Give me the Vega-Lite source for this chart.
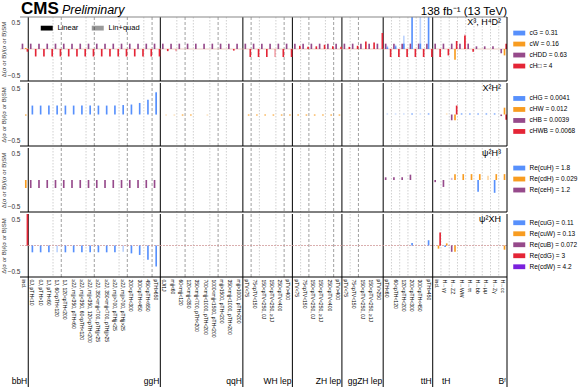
{
"$schema": "https://vega.github.io/schema/vega-lite/v6.json",
"padding": {"left": 0, "top": 0, "right": 0, "bottom": 0},
"spacing": 0,
"datasets": {
"bins": [{"b":"00","line":"none"},{"b":"01","line":"grp"},{"b":"02","line":"none"},{"b":"03","line":"none"},{"b":"04","line":"dot"},{"b":"05","line":"dash"},{"b":"06","line":"none"},{"b":"07","line":"none"},{"b":"08","line":"dot"},{"b":"09","line":"dash"},{"b":"10","line":"none"},{"b":"11","line":"none"},{"b":"12","line":"dot"},{"b":"13","line":"dash"},{"b":"14","line":"none"},{"b":"15","line":"dot"},{"b":"16","line":"dash"},{"b":"17","line":"grp"},{"b":"18","line":"none"},{"b":"19","line":"dot"},{"b":"20","line":"dash"},{"b":"21","line":"dot"},{"b":"22","line":"none"},{"b":"23","line":"dot"},{"b":"24","line":"dash"},{"b":"25","line":"dot"},{"b":"26","line":"none"},{"b":"27","line":"grp"},{"b":"28","line":"dash"},{"b":"29","line":"dot"},{"b":"30","line":"none"},{"b":"31","line":"dot"},{"b":"32","line":"dash"},{"b":"33","line":"grp"},{"b":"34","line":"dot"},{"b":"35","line":"dash"},{"b":"36","line":"none"},{"b":"37","line":"dot"},{"b":"38","line":"dash"},{"b":"39","line":"grp"},{"b":"40","line":"dot"},{"b":"41","line":"dash"},{"b":"42","line":"none"},{"b":"43","line":"none"},{"b":"44","line":"grp"},{"b":"45","line":"dot"},{"b":"46","line":"dot"},{"b":"47","line":"dot"},{"b":"48","line":"dot"},{"b":"49","line":"dot"},{"b":"50","line":"grp"},{"b":"51","line":"dot"},{"b":"52","line":"dot"},{"b":"53","line":"dot"},{"b":"54","line":"dot"},{"b":"55","line":"dot"},{"b":"56","line":"dot"},{"b":"57","line":"dot"},{"b":"58","line":"dot"}],
"groups": [{"b":"00","n":"bbH"},{"b":"16","n":"ggH"},{"b":"26","n":"qqH"},{"b":"32","n":"WH lep"},{"b":"38","n":"ZH lep"},{"b":"43","n":"ggZH lep"},{"b":"49","n":"ttH"},{"b":"58","n":"Bᶠ"},{"b":"50","n":"tH"}],
"r1": [{"b":"00","o":"P","t":"L","v":0.1},{"b":"00","o":"O","t":"L","v":0.02},{"b":"00","o":"R","t":"L","v":-0.05},
{"b":"01","o":"P","t":"L","v":0.1},{"b":"01","o":"R","t":"L","v":-0.14},{"b":"02","o":"P","t":"L","v":0.1},{"b":"02","o":"R","t":"L","v":-0.14},{"b":"03","o":"P","t":"L","v":0.1},{"b":"03","o":"R","t":"L","v":-0.14},{"b":"04","o":"P","t":"L","v":0.1},{"b":"04","o":"R","t":"L","v":-0.14},{"b":"05","o":"P","t":"L","v":0.1},{"b":"05","o":"R","t":"L","v":-0.14},{"b":"06","o":"P","t":"L","v":0.1},{"b":"06","o":"R","t":"L","v":-0.14},{"b":"07","o":"P","t":"L","v":0.1},{"b":"07","o":"R","t":"L","v":-0.14},{"b":"08","o":"P","t":"L","v":0.1},{"b":"08","o":"R","t":"L","v":-0.14},{"b":"09","o":"P","t":"L","v":0.1},{"b":"09","o":"R","t":"L","v":-0.14},{"b":"10","o":"P","t":"L","v":0.1},{"b":"10","o":"R","t":"L","v":-0.14},{"b":"11","o":"P","t":"L","v":0.1},{"b":"11","o":"R","t":"L","v":-0.14},{"b":"12","o":"P","t":"L","v":0.1},{"b":"12","o":"R","t":"L","v":-0.14},{"b":"13","o":"P","t":"L","v":0.1},{"b":"13","o":"R","t":"L","v":-0.14},{"b":"14","o":"P","t":"L","v":0.1},{"b":"14","o":"R","t":"L","v":-0.14},{"b":"15","o":"P","t":"L","v":0.1},{"b":"15","o":"R","t":"L","v":-0.14},{"b":"16","o":"P","t":"L","v":0.1},{"b":"16","o":"R","t":"L","v":-0.14},
{"b":"17","o":"P","t":"L","v":0.1},{"b":"17","o":"R","t":"L","v":-0.04},{"b":"18","o":"P","t":"L","v":0.1},{"b":"18","o":"R","t":"Q","v":-0.04},{"b":"19","o":"P","t":"L","v":0.1},{"b":"20","o":"P","t":"L","v":0.1},{"b":"21","o":"P","t":"L","v":0.1},{"b":"22","o":"P","t":"L","v":0.1},{"b":"23","o":"P","t":"L","v":0.1},{"b":"24","o":"P","t":"L","v":0.1},{"b":"25","o":"P","t":"L","v":0.1},{"b":"25","o":"R","t":"L","v":-0.03},{"b":"26","o":"P","t":"L","v":0.1},
{"b":"27","o":"P","t":"L","v":0.1},{"b":"27","o":"R","t":"L","v":-0.15},{"b":"28","o":"P","t":"L","v":0.1},{"b":"28","o":"R","t":"L","v":-0.15},{"b":"29","o":"P","t":"L","v":0.1},{"b":"29","o":"R","t":"L","v":-0.15},{"b":"30","o":"P","t":"L","v":0.1},{"b":"30","o":"R","t":"Q","v":-0.15},{"b":"31","o":"P","t":"L","v":0.1},{"b":"31","o":"R","t":"L","v":-0.15},{"b":"32","o":"P","t":"L","v":0.1},{"b":"32","o":"R","t":"L","v":-0.15},
{"b":"33","o":"P","t":"L","v":0.1},{"b":"33","o":"R","t":"L","v":0.06},{"b":"34","o":"P","t":"L","v":0.1},{"b":"34","o":"R","t":"L","v":0.04},{"b":"35","o":"P","t":"L","v":0.1},{"b":"35","o":"R","t":"L","v":0.05},{"b":"36","o":"P","t":"L","v":0.1},{"b":"36","o":"R","t":"L","v":0.08},{"b":"37","o":"P","t":"L","v":0.1},{"b":"37","o":"R","t":"L","v":0.05},{"b":"38","o":"P","t":"L","v":0.1},{"b":"38","o":"R","t":"L","v":0.04},
{"b":"39","o":"P","t":"L","v":0.1},{"b":"39","o":"R","t":"L","v":0.04},{"b":"40","o":"P","t":"L","v":0.1},{"b":"40","o":"R","t":"L","v":0.06},{"b":"41","o":"P","t":"L","v":0.1},{"b":"41","o":"R","t":"L","v":0.14},{"b":"42","o":"P","t":"L","v":0.1},{"b":"42","o":"R","t":"L","v":0.12},{"b":"43","o":"P","t":"L","v":0.1},{"b":"43","o":"R","t":"L","v":0.3},
{"b":"44","o":"P","t":"L","v":0.1},{"b":"44","o":"R","t":"L","v":-0.15},{"b":"44","o":"B","t":"L","v":0.03},{"b":"44","o":"B","t":"Q","v":0.06},
{"b":"45","o":"P","t":"L","v":0.1},{"b":"45","o":"R","t":"L","v":-0.15},{"b":"45","o":"B","t":"L","v":0.05},{"b":"45","o":"B","t":"Q","v":0.08},
{"b":"46","o":"P","t":"L","v":0.1},{"b":"46","o":"R","t":"L","v":-0.15},{"b":"46","o":"B","t":"L","v":0.1},{"b":"46","o":"B","t":"Q","v":0.25},
{"b":"47","o":"P","t":"L","v":0.1},{"b":"47","o":"R","t":"L","v":-0.15},{"b":"47","o":"B","t":"L","v":0.9},
{"b":"48","o":"P","t":"L","v":0.1},{"b":"48","o":"R","t":"L","v":-0.15},{"b":"48","o":"B","t":"L","v":0.1},{"b":"48","o":"B","t":"Q","v":0.9},
{"b":"49","o":"P","t":"L","v":0.1},{"b":"49","o":"R","t":"L","v":-0.15},{"b":"49","o":"B","t":"L","v":0.9},
{"b":"50","o":"P","t":"L","v":0.1},{"b":"50","o":"R","t":"L","v":-0.15},
{"b":"51","o":"P","t":"L","v":0.1},{"b":"51","o":"R","t":"L","v":-0.12},
{"b":"52","o":"P","t":"L","v":0.1},{"b":"52","o":"O","t":"L","v":-0.2},{"b":"52","o":"R","t":"L","v":0.15},
{"b":"53","o":"P","t":"L","v":0.1},{"b":"53","o":"R","t":"Q","v":0.27},{"b":"53","o":"R","t":"L","v":0.25},
{"b":"54","o":"P","t":"L","v":0.1},{"b":"54","o":"R","t":"L","v":-0.05},
{"b":"55","o":"P","t":"L","v":0.05},{"b":"56","o":"P","t":"L","v":0.05},{"b":"57","o":"P","t":"L","v":0.05},
{"b":"58","o":"P","t":"L","v":-0.08},{"b":"58","o":"O","t":"L","v":-0.12},{"b":"58","o":"R","t":"L","v":0.1}],
"r2": [{"b":"00","o":"O","t":"L","v":-0.02},
{"b":"01","o":"B","t":"L","v":0.17},{"b":"02","o":"B","t":"L","v":0.17},{"b":"03","o":"B","t":"L","v":0.17},{"b":"04","o":"B","t":"L","v":0.17},{"b":"05","o":"B","t":"L","v":0.17},{"b":"06","o":"B","t":"L","v":0.17},{"b":"07","o":"B","t":"L","v":0.17},{"b":"08","o":"B","t":"L","v":0.17},{"b":"09","o":"B","t":"L","v":0.17},{"b":"10","o":"B","t":"L","v":0.17},{"b":"11","o":"B","t":"L","v":0.17},{"b":"12","o":"B","t":"L","v":0.18},{"b":"13","o":"B","t":"L","v":0.19},{"b":"14","o":"B","t":"L","v":0.22},{"b":"15","o":"B","t":"L","v":0.28},{"b":"16","o":"B","t":"Q","v":0.43},{"b":"16","o":"B","t":"L","v":0.42},
{"b":"17","o":"O","t":"Q","v":-0.02},{"b":"18","o":"O","t":"Q","v":-0.02},{"b":"19","o":"O","t":"L","v":-0.02},{"b":"20","o":"O","t":"L","v":-0.02},{"b":"22","o":"O","t":"Q","v":-0.02},{"b":"27","o":"O","t":"L","v":-0.02},{"b":"28","o":"O","t":"L","v":-0.02},{"b":"29","o":"O","t":"L","v":-0.02},{"b":"30","o":"O","t":"L","v":-0.02},{"b":"31","o":"O","t":"L","v":-0.02},{"b":"32","o":"O","t":"L","v":-0.02},{"b":"33","o":"O","t":"L","v":-0.02},{"b":"34","o":"O","t":"L","v":-0.02},{"b":"35","o":"O","t":"L","v":-0.02},{"b":"36","o":"O","t":"L","v":-0.02},{"b":"37","o":"O","t":"L","v":-0.02},{"b":"38","o":"O","t":"L","v":-0.02},
{"b":"44","o":"B","t":"Q","v":0.02},{"b":"45","o":"B","t":"Q","v":0.02},{"b":"46","o":"B","t":"Q","v":0.02},{"b":"47","o":"B","t":"L","v":0.02},{"b":"48","o":"B","t":"Q","v":0.02},{"b":"49","o":"B","t":"L","v":0.02},
{"b":"51","o":"O","t":"Q","v":0.02},{"b":"52","o":"P","t":"L","v":-0.11},{"b":"52","o":"O","t":"L","v":-0.11},{"b":"52","o":"R","t":"L","v":0.17},
{"b":"53","o":"B","t":"L","v":0.02},{"b":"54","o":"B","t":"L","v":0.02},{"b":"55","o":"B","t":"L","v":0.02},{"b":"56","o":"B","t":"L","v":0.02},{"b":"57","o":"B","t":"L","v":0.02},
{"b":"58","o":"P","t":"L","v":-0.03},{"b":"58","o":"O","t":"L","v":0.13},{"b":"58","o":"R","t":"L","v":-0.1}],
"r3": [{"b":"00","o":"O","t":"L","v":-0.15},
{"b":"01","o":"P","t":"L","v":-0.15},{"b":"02","o":"P","t":"L","v":-0.15},{"b":"03","o":"P","t":"L","v":-0.15},{"b":"04","o":"P","t":"L","v":-0.15},{"b":"05","o":"P","t":"L","v":-0.15},{"b":"06","o":"P","t":"L","v":-0.15},{"b":"07","o":"P","t":"L","v":-0.15},{"b":"08","o":"P","t":"L","v":-0.15},{"b":"09","o":"P","t":"L","v":-0.15},{"b":"10","o":"P","t":"L","v":-0.15},{"b":"11","o":"P","t":"L","v":-0.15},{"b":"12","o":"P","t":"L","v":-0.15},{"b":"13","o":"P","t":"L","v":-0.15},{"b":"14","o":"P","t":"L","v":-0.15},{"b":"15","o":"P","t":"L","v":-0.15},{"b":"16","o":"P","t":"L","v":-0.15},
{"b":"44","o":"P","t":"L","v":0.05},{"b":"45","o":"P","t":"L","v":0.05},{"b":"46","o":"P","t":"L","v":0.05},{"b":"47","o":"P","t":"L","v":0.1},
{"b":"50","o":"P","t":"L","v":-0.04},{"b":"51","o":"P","t":"L","v":-0.13},{"b":"52","o":"P","t":"Q","v":0.04},{"b":"52","o":"O","t":"L","v":0.11},{"b":"53","o":"O","t":"L","v":0.11},{"b":"54","o":"O","t":"L","v":0.11},{"b":"55","o":"B","t":"L","v":-0.22},{"b":"55","o":"O","t":"L","v":0.11},{"b":"56","o":"O","t":"Q","v":0.08},{"b":"57","o":"B","t":"L","v":-0.24},{"b":"57","o":"O","t":"L","v":0.11},{"b":"58","o":"O","t":"L","v":0.11}],
"r4": [{"b":"00","o":"R","t":"L","v":0.9},
{"b":"01","o":"B","t":"L","v":-0.13},{"b":"02","o":"B","t":"L","v":-0.13},{"b":"03","o":"B","t":"L","v":-0.13},{"b":"04","o":"B","t":"Q","v":-0.13},{"b":"05","o":"B","t":"L","v":-0.13},{"b":"06","o":"B","t":"L","v":-0.13},{"b":"07","o":"B","t":"L","v":-0.13},{"b":"08","o":"B","t":"L","v":-0.13},{"b":"09","o":"B","t":"L","v":-0.13},{"b":"10","o":"B","t":"L","v":-0.13},{"b":"11","o":"B","t":"L","v":-0.13},{"b":"12","o":"B","t":"Q","v":-0.12},{"b":"13","o":"B","t":"L","v":-0.15},{"b":"14","o":"B","t":"L","v":-0.18},{"b":"15","o":"B","t":"L","v":-0.27},{"b":"16","o":"B","t":"L","v":-0.4},
{"b":"47","o":"B","t":"L","v":0.05},{"b":"49","o":"B","t":"L","v":0.1},
{"b":"50","o":"O","t":"L","v":-0.06},{"b":"50","o":"R","t":"L","v":0.25},{"b":"51","o":"B","t":"L","v":-0.03},{"b":"51","o":"O","t":"L","v":0.04},{"b":"52","o":"P","t":"L","v":-0.12},{"b":"52","o":"O","t":"L","v":-0.12},{"b":"58","o":"O","t":"L","v":-0.08}]
},
"vconcat": [
{"width": 487, "height": 64,
 "layer": [
  {"data": {"name": "bins"}, "mark": {"type": "rule", "strokeWidth": 1},
   "encoding": {"x": {"field": "b", "type": "nominal", "bandPosition": 0, "scale": {"paddingInner": 0, "paddingOuter": 0}, "axis": null},
    "stroke": {"field": "line", "type": "nominal", "scale": {"domain": ["grp","dash","dot","none"], "range": ["#000000","#a0a0a0","#d0d0d0","rgba(0,0,0,0)"]}, "legend": null},
    "strokeDash": {"field": "line", "type": "nominal", "scale": {"domain": ["grp","dash","dot","none"], "range": [[1,0],[3,2],[1.5,1.5],[1,0]]}, "legend": null}}},
  {"data": {"values": [{}]}, "mark": {"type": "rule", "color": "#e0b0a0", "strokeWidth": 0.6},
   "encoding": {"y": {"datum": 0, "type": "quantitative", "scale": {"domain": [-0.6, 0.6]}}}},
  {"data": {"name": "r1"}, "mark": {"type": "bar", "clip": true},
   "encoding": {
    "x": {"field": "b", "type": "nominal", "axis": null},
    "xOffset": {"field": "o", "type": "nominal", "scale": {"domain": ["V","P","B","O","R"], "paddingInner": 0, "paddingOuter": 0}},
    "y": {"field": "v", "type": "quantitative", "stack": null, "scale": {"domain": [-0.6, 0.6]}, "axis": {"values": [-0.5, 0, 0.5], "format": ".1f", "title": "Δ(σ or B)/(σ or B)SM"}},
    "color": {"field": "o", "type": "nominal", "scale": {"domain": ["B","O","P","R"], "range": ["#5790fc","#f89c20","#964a8b","#e42536"]},
      "legend": {"orient": "none", "legendX": 496, "legendY": 12.8, "title": null, "labelExpr": "datum.label=='B'?'cG = 0.31':datum.label=='O'?'cW = 0.16':datum.label=='P'?'cHDD = 0.63':'cH□ = 4'"}},
    "opacity": {"field": "t", "type": "nominal", "scale": {"domain": ["L","Q"], "range": [1, 0.4]},
      "legend": {"orient": "none", "legendX": 23, "legendY": 7, "direction": "horizontal", "title": null, "columnPadding": 12, "labelFontSize": 7.5, "labelColor": "#000000", "symbolFillColor": "black", "labelExpr": "datum.label=='L'?'Linear':'Lin+quad'"}},
    "order": {"field": "t", "sort": "descending"}}},
  {"data": {"values": [{}]}, "mark": {"type": "rule", "color": "#000000", "strokeWidth": 1},
   "encoding": {"y": {"datum": -0.6, "type": "quantitative", "scale": {"domain": [-0.6, 0.6]}}}},
  {"data": {"values": [{}]}, "mark": {"type": "rule", "color": "#888888", "strokeWidth": 1.2},
   "encoding": {"y": {"datum": 0.6, "type": "quantitative", "scale": {"domain": [-0.6, 0.6]}}}},
  {"data": {"values": [{}]}, "mark": {"type": "rule", "color": "#000000", "strokeWidth": 1},
   "encoding": {"x": {"datum": "58", "type": "nominal", "bandPosition": 1, "axis": null}}},
  {"data": {"values": [{"t": "X³, H⁴D²"}]}, "mark": {"type": "text", "fontSize": 9, "align": "right", "baseline": "middle", "dx": -6},
   "encoding": {"x": {"datum": "58", "type": "nominal", "bandPosition": 1, "axis": null}, "y": {"datum": 0.5, "type": "quantitative", "scale": {"domain": [-0.6, 0.6]}}, "text": {"field": "t"}}},
  {"data": {"values": [{"t": "CMS"}]}, "mark": {"type": "text", "fontSize": 17, "fontWeight": "bold", "align": "left", "baseline": "alphabetic", "dx": 1, "dy": -3},
   "encoding": {"x": {"datum": "00", "type": "nominal", "bandPosition": 0, "axis": null}, "y": {"datum": 0.6, "type": "quantitative", "scale": {"domain": [-0.6, 0.6]}}, "text": {"field": "t"}}},
  {"data": {"values": [{"t": "Preliminary"}]}, "mark": {"type": "text", "fontSize": 12.5, "fontStyle": "italic", "align": "left", "baseline": "alphabetic", "dx": 42, "dy": -3},
   "encoding": {"x": {"datum": "00", "type": "nominal", "bandPosition": 0, "axis": null}, "y": {"datum": 0.6, "type": "quantitative", "scale": {"domain": [-0.6, 0.6]}}, "text": {"field": "t"}}},
  {"data": {"values": [{"t": "138 fb⁻¹ (13 TeV)"}]}, "mark": {"type": "text", "fontSize": 11.5, "align": "right", "baseline": "alphabetic", "dx": 0, "dy": -2},
   "encoding": {"x": {"datum": "58", "type": "nominal", "bandPosition": 1, "axis": null}, "y": {"datum": 0.6, "type": "quantitative", "scale": {"domain": [-0.6, 0.6]}}, "text": {"field": "t"}}}
 ]},
{"width": 487, "height": 63,
 "layer": [
  {"data": {"name": "bins"}, "mark": {"type": "rule", "strokeWidth": 1},
   "encoding": {"x": {"field": "b", "type": "nominal", "bandPosition": 0, "scale": {"paddingInner": 0, "paddingOuter": 0}, "axis": null},
    "stroke": {"field": "line", "type": "nominal", "scale": {"domain": ["grp","dash","dot","none"], "range": ["#000000","#a0a0a0","#d0d0d0","rgba(0,0,0,0)"]}, "legend": null},
    "strokeDash": {"field": "line", "type": "nominal", "scale": {"domain": ["grp","dash","dot","none"], "range": [[1,0],[3,2],[1.5,1.5],[1,0]]}, "legend": null}}},
  {"data": {"name": "r2"}, "mark": {"type": "bar", "clip": true},
   "encoding": {
    "x": {"field": "b", "type": "nominal", "axis": null},
    "xOffset": {"field": "o", "type": "nominal", "scale": {"domain": ["V","P","B","O","R"], "paddingInner": 0, "paddingOuter": 0}},
    "y": {"field": "v", "type": "quantitative", "stack": null, "scale": {"domain": [-0.6, 0.6]}, "axis": {"values": [-0.5, 0, 0.5], "format": ".1f", "title": "Δ(σ or B)/(σ or B)SM"}},
    "color": {"field": "o", "type": "nominal", "scale": {"domain": ["B","O","P","R"], "range": ["#5790fc","#f89c20","#964a8b","#e42536"]},
      "legend": {"orient": "none", "legendX": 496, "legendY": 12.2, "title": null, "labelExpr": "datum.label=='B'?'cHG = 0.0041':datum.label=='O'?'cHW = 0.012':datum.label=='P'?'cHB = 0.0039':'cHWB = 0.0068'"}},
    "opacity": {"field": "t", "type": "nominal", "scale": {"domain": ["L","Q"], "range": [1, 0.4]}, "legend": null},
    "order": {"field": "t", "sort": "descending"}}},
  {"data": {"values": [{}]}, "mark": {"type": "rule", "color": "#000000", "strokeWidth": 1},
   "encoding": {"y": {"datum": -0.6, "type": "quantitative", "scale": {"domain": [-0.6, 0.6]}}}},
  {"data": {"values": [{}]}, "mark": {"type": "rule", "color": "#000000", "strokeWidth": 1},
   "encoding": {"x": {"datum": "58", "type": "nominal", "bandPosition": 1, "axis": null}}},
  {"data": {"values": [{"t": "X²H²"}]}, "mark": {"type": "text", "fontSize": 9, "align": "right", "baseline": "middle", "dx": -6},
   "encoding": {"x": {"datum": "58", "type": "nominal", "bandPosition": 1, "axis": null}, "y": {"datum": 0.5, "type": "quantitative", "scale": {"domain": [-0.6, 0.6]}}, "text": {"field": "t"}}}
 ]},
{"width": 487, "height": 64,
 "layer": [
  {"data": {"name": "bins"}, "mark": {"type": "rule", "strokeWidth": 1},
   "encoding": {"x": {"field": "b", "type": "nominal", "bandPosition": 0, "scale": {"paddingInner": 0, "paddingOuter": 0}, "axis": null},
    "stroke": {"field": "line", "type": "nominal", "scale": {"domain": ["grp","dash","dot","none"], "range": ["#000000","#a0a0a0","#d0d0d0","rgba(0,0,0,0)"]}, "legend": null},
    "strokeDash": {"field": "line", "type": "nominal", "scale": {"domain": ["grp","dash","dot","none"], "range": [[1,0],[3,2],[1.5,1.5],[1,0]]}, "legend": null}}},
  {"data": {"name": "r3"}, "mark": {"type": "bar", "clip": true},
   "encoding": {
    "x": {"field": "b", "type": "nominal", "axis": null},
    "xOffset": {"field": "o", "type": "nominal", "scale": {"domain": ["V","P","B","O","R"], "paddingInner": 0, "paddingOuter": 0}},
    "y": {"field": "v", "type": "quantitative", "stack": null, "scale": {"domain": [-0.6, 0.6]}, "axis": {"values": [-0.5, 0, 0.5], "format": ".1f", "title": "Δ(σ or B)/(σ or B)SM"}},
    "color": {"field": "o", "type": "nominal", "scale": {"domain": ["B","O","P"], "range": ["#5790fc","#f89c20","#964a8b"]},
      "legend": {"orient": "none", "legendX": 496, "legendY": 16.8, "title": null, "labelExpr": "datum.label=='B'?'Re(cuH) = 1.8':datum.label=='O'?'Re(cdH) = 0.029':'Re(ceH) = 1.2'"}},
    "opacity": {"field": "t", "type": "nominal", "scale": {"domain": ["L","Q"], "range": [1, 0.4]}, "legend": null},
    "order": {"field": "t", "sort": "descending"}}},
  {"data": {"values": [{}]}, "mark": {"type": "rule", "color": "#000000", "strokeWidth": 1},
   "encoding": {"y": {"datum": -0.6, "type": "quantitative", "scale": {"domain": [-0.6, 0.6]}}}},
  {"data": {"values": [{}]}, "mark": {"type": "rule", "color": "#000000", "strokeWidth": 1},
   "encoding": {"x": {"datum": "58", "type": "nominal", "bandPosition": 1, "axis": null}}},
  {"data": {"values": [{"t": "ψ²H³"}]}, "mark": {"type": "text", "fontSize": 9, "align": "right", "baseline": "middle", "dx": -6},
   "encoding": {"x": {"datum": "58", "type": "nominal", "bandPosition": 1, "axis": null}, "y": {"datum": 0.5, "type": "quantitative", "scale": {"domain": [-0.6, 0.6]}}, "text": {"field": "t"}}}
 ]},
{"width": 487, "height": 63,
 "layer": [
  {"data": {"name": "bins"}, "mark": {"type": "rule", "strokeWidth": 1},
   "encoding": {"x": {"field": "b", "type": "nominal", "bandPosition": 0, "scale": {"paddingInner": 0, "paddingOuter": 0},
      "axis": {"title": null, "labelAngle": 90, "labelFontSize": 5, "labelPadding": 2, "labelOverlap": false, "labelLimit": 300, "labelColor": "#000000", "ticks": false, "domain": false,
       "labelExpr": "['incl.','0J, pTH<10','0J, pTH>10','1J, pTH<60','1J, 60<pTH<120','1J, 120<pTH<200','≥2J, mjj<350, pTH<60','≥2J, mjj<350, 60<pTH<120','≥2J, mjj<350, 120<pTH<200','≥2J, 350<mjj<700, pTHjj<25','≥2J, 350<mjj<700, pTHjj>25','≥2J, mjj>700, pTHjj<25','≥2J, mjj>700, pTHjj>25','200<pTH<300','300<pTH<450','450<pTH<650','pTH>650','0J/1J','mjj<60','60<mjj<120','120<mjj<350','350<mjj<700, pTH<200','700<mjj<1000, pTH<200','1000<mjj<1500, pTH<200','mjj>1500, pTH<200','350<mjj<1000, pTH>200','mjj>1000, pTH>200','pTV<75','75<pTV<150','150<pTV<250, 0J','150<pTV<250, ≥1J','250<pTV<400','pTV>400','pTV<75','75<pTV<150','150<pTV<250, 0J','150<pTV<250, ≥1J','250<pTV<400','pTV>400','pTV<75','75<pTV<150','150<pTV<250, 0J','150<pTV<250, ≥1J','pTV>250','pTH<60','60<pTH<120','120<pTH<200','200<pTH<300','300<pTH<450','pTH>450','incl.','H→γγ','H→ZZ','H→WW','H→ττ','H→bb','H→μμ','H→Zγ','H→cc'][toNumber(datum.value)]"}},
    "stroke": {"field": "line", "type": "nominal", "scale": {"domain": ["grp","dash","dot","none"], "range": ["#000000","#a0a0a0","#d0d0d0","rgba(0,0,0,0)"]}, "legend": null},
    "strokeDash": {"field": "line", "type": "nominal", "scale": {"domain": ["grp","dash","dot","none"], "range": [[1,0],[3,2],[1.5,1.5],[1,0]]}, "legend": null}}},
  {"data": {"values": [{}]}, "mark": {"type": "rule", "color": "#d09a9a", "strokeWidth": 0.8, "strokeDash": [2, 1]},
   "encoding": {"y": {"datum": 0, "type": "quantitative", "scale": {"domain": [-0.6, 0.6]}}}},
  {"data": {"name": "r4"}, "mark": {"type": "bar", "clip": true},
   "encoding": {
    "x": {"field": "b", "type": "nominal"},
    "xOffset": {"field": "o", "type": "nominal", "scale": {"domain": ["V","P","B","O","R"], "paddingInner": 0, "paddingOuter": 0}},
    "y": {"field": "v", "type": "quantitative", "stack": null, "scale": {"domain": [-0.6, 0.6]}, "axis": {"values": [-0.5, 0, 0.5], "format": ".1f", "title": "Δ(σ or B)/(σ or B)SM"}},
    "color": {"field": "o", "type": "nominal", "scale": {"domain": ["B","O","P","R","V"], "range": ["#5790fc","#f89c20","#964a8b","#e42536","#7a21dd"]},
      "legend": {"orient": "none", "legendX": 496, "legendY": 5.5, "title": null, "labelExpr": "datum.label=='B'?'Re(cuG) = 0.11':datum.label=='O'?'Re(cuW) = 0.13':datum.label=='P'?'Re(cuB) = 0.072':datum.label=='R'?'Re(cdG) = 3':'Re(cdW) = 4.2'"}},
    "opacity": {"field": "t", "type": "nominal", "scale": {"domain": ["L","Q"], "range": [1, 0.4]}, "legend": null},
    "order": {"field": "t", "sort": "descending"}}},
  {"data": {"values": [{}]}, "mark": {"type": "rule", "color": "#000000", "strokeWidth": 1},
   "encoding": {"y": {"datum": -0.6, "type": "quantitative", "scale": {"domain": [-0.6, 0.6]}}}},
  {"data": {"values": [{}]}, "mark": {"type": "rule", "color": "#000000", "strokeWidth": 1},
   "encoding": {"x": {"datum": "58", "type": "nominal", "bandPosition": 1}, "y": {"datum": 0.6, "type": "quantitative", "scale": {"domain": [-0.6, 0.6]}}, "y2": {"datum": -2.95}}},
  {"data": {"name": "bins"}, "transform": [{"filter": "datum.line == 'grp'"}], "mark": {"type": "rule", "color": "#000000", "strokeWidth": 1},
   "encoding": {"x": {"field": "b", "type": "nominal", "bandPosition": 0}, "y": {"datum": -0.6, "type": "quantitative", "scale": {"domain": [-0.6, 0.6]}}, "y2": {"datum": -2.95}}},
  {"data": {"name": "groups"}, "transform": [{"filter": "datum.n != 'tH'"}], "mark": {"type": "text", "fontSize": 8.5, "align": "right", "baseline": "alphabetic", "dx": -1},
   "encoding": {"x": {"field": "b", "type": "nominal", "bandPosition": 1}, "y": {"datum": -2.64, "type": "quantitative", "scale": {"domain": [-0.6, 0.6]}}, "text": {"field": "n"}}},
  {"data": {"name": "groups"}, "transform": [{"filter": "datum.n == 'tH'"}], "mark": {"type": "text", "fontSize": 8.5, "align": "left", "baseline": "alphabetic", "dx": 1},
   "encoding": {"x": {"field": "b", "type": "nominal", "bandPosition": 1}, "y": {"datum": -2.64, "type": "quantitative", "scale": {"domain": [-0.6, 0.6]}}, "text": {"field": "n"}}},
  {"data": {"values": [{"t": "ψ²XH"}]}, "mark": {"type": "text", "fontSize": 9, "align": "right", "baseline": "middle", "dx": -6},
   "encoding": {"x": {"datum": "58", "type": "nominal", "bandPosition": 1}, "y": {"datum": 0.5, "type": "quantitative", "scale": {"domain": [-0.6, 0.6]}}, "text": {"field": "t"}}}
 ]}
],
"resolve": {"scale": {"color": "independent", "opacity": "independent", "xOffset": "independent", "x": "independent", "y": "independent"}, "legend": {"color": "independent", "opacity": "independent"}},
"config": {
 "font": "Liberation Sans",
 "view": {"stroke": null},
 "axis": {"grid": false, "domain": false, "ticks": false},
 "axisY": {"labelFontSize": 6.5, "labelColor": "#333333", "titleFontSize": 6, "titleFontWeight": "normal", "titleColor": "#333333", "labelPadding": 0, "titlePadding": 1, "minExtent": 0},
 "legend": {"symbolType": "M-2,-0.8H2V0.8H-2Z", "symbolSize": 36, "labelFontSize": 6.5, "rowPadding": 4, "labelOffset": 7, "padding": 0, "symbolStrokeWidth": 0, "labelColor": "#000000"},
 "text": {"font": "Liberation Sans", "color": "#000000"}
}
}
